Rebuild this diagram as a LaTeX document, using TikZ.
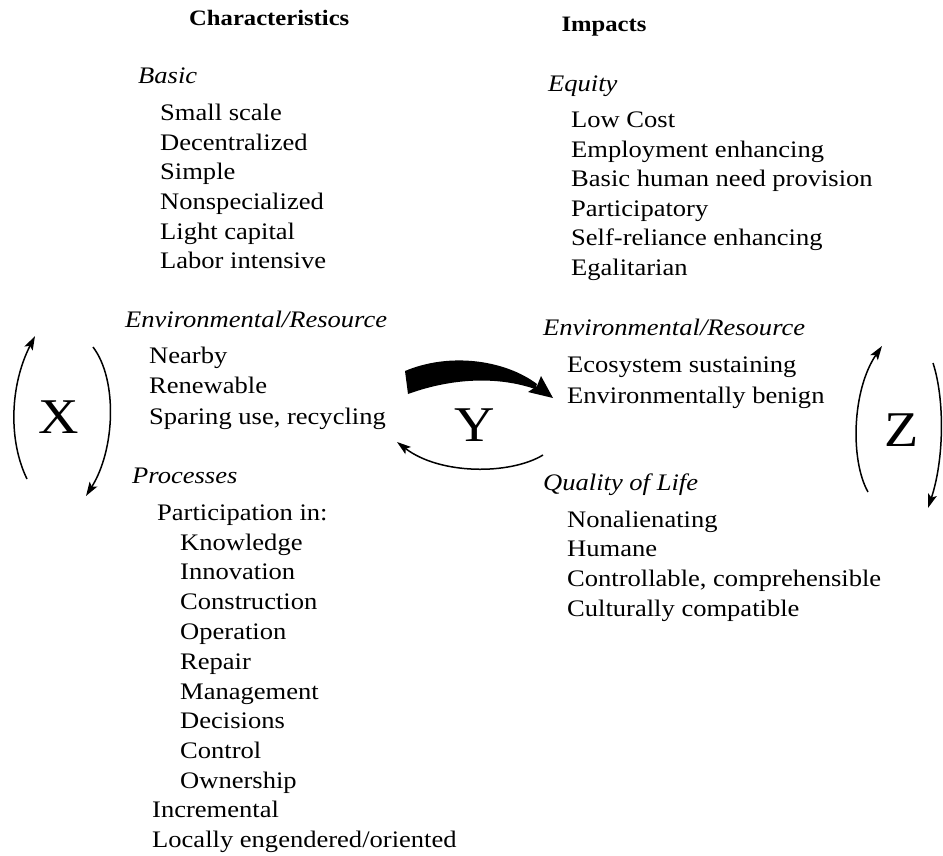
\documentclass[tikz,border=0pt]{standalone}
\usepackage{fontspec}
\setmainfont{Liberation Serif}[FakeStretch=1.12]
\usetikzlibrary{arrows.meta}
\tikzset{
  txt/.style={anchor=base west, inner sep=0pt, font=\fontsize{23.7}{28}\selectfont},
  cat/.style={anchor=base west, inner sep=0pt, font=\fontsize{23.7}{28}\selectfont\itshape},
  head/.style={anchor=base west, inner sep=0pt, font=\fontsize{22}{26}\selectfont\bfseries},
  big/.style={anchor=center, inner sep=0pt, font=\fontsize{50}{56}\selectfont},
  loop/.style={line width=1.5pt, -{Stealth[length=14pt,width=9pt,inset=3pt]}},
}
\begin{document}
\begin{tikzpicture}[x=1pt,y=-1pt]
\useasboundingbox (0,0) rectangle (943,856);
% headers
\node[head] (hchar) at (189,26) {Characteristics};
\node[head,anchor=base] (himp) at (604,32) {Impacts};
% left column
\node[cat] (cbasic) at (138,84) {Basic};
\foreach \t [count=\i] in {Small scale, Decentralized, Simple, Nonspecialized, Light capital, Labor intensive}
  \node[txt] (b\i) at (160,{121+29.5*(\i-1)}) {\t};
\node[cat] (cenv) at (125,327) {Environmental/Resource};
\foreach \t [count=\i] in {Nearby, Renewable, {Sparing use, recycling}}
  \node[txt] (e\i) at (149,{363+30.5*(\i-1)}) {\t};
\node[cat] (cproc) at (132,483) {Processes};
\node[txt] (part) at (157,520) {Participation in:};
\foreach \t [count=\i] in {Knowledge, Innovation, Construction, Operation, Repair, Management, Decisions, Control, Ownership}
  \node[txt] (p\i) at (180,{550+29.8*(\i-1)}) {\t};
\node[txt] (incr) at (152,817) {Incremental};
\node[txt] (loc) at (152,847) {Locally engendered/oriented};
% right column
\node[cat] (requity) at (548,92) {Equity};
\foreach \t [count=\i] in {Low Cost, Employment enhancing, Basic human need provision, Participatory, Self-reliance enhancing, Egalitarian}
  \node[txt] (q\i) at (571,{128+29.4*(\i-1)}) {\t};
\node[cat] (renv) at (543,335) {Environmental/Resource};
\node[txt] (r1) at (567,372) {Ecosystem sustaining};
\node[txt] (r2) at (567,403) {Environmentally benign};
\node[cat] (rqol) at (543,490) {Quality of Life};
\foreach \t [count=\i] in {Nonalienating, Humane, {Controllable, comprehensible}, Culturally compatible}
  \node[txt] (l\i) at (567,{527+29.8*(\i-1)}) {\t};
% big letters
\node[big] (X) at (59,417) {X};
\node[big] (Y) at (475,425) {Y};
\node[big] (Z) at (902,430) {Z};
% loop coordinates
\coordinate (xa1) at (27,479);  \coordinate (xa2) at (35,336);
\coordinate (xb1) at (93,347);  \coordinate (xb2) at (86,496);
\coordinate (za1) at (868,492); \coordinate (za2) at (882,346);
\coordinate (zb1) at (933,363); \coordinate (zb2) at (928,508);
\coordinate (ya1) at (543,455); \coordinate (ya2) at (397,442);
\draw[loop] (xa1) .. controls (8,440) and (10,385) .. (xa2);
\draw[loop] (xb1) .. controls (118,380) and (115,450) .. (xb2);
\draw[loop] (za1) .. controls (850,460) and (852,390) .. (za2);
\draw[loop] (zb1) .. controls (945,400) and (944,460) .. (zb2);
\draw[loop] (ya1) .. controls (510,475) and (440,475) .. (ya2);
% thick tapered arrow
\coordinate (yt) at (553,398);
\fill (405,371) .. controls (450,352) and (505,360) .. (537,384)
      -- (535,389) .. controls (500,377) and (455,377) .. (408,394) -- cycle;
\fill (yt) -- (541,376) -- (537,386) -- (528,392) -- cycle;
\end{tikzpicture}
\end{document}
